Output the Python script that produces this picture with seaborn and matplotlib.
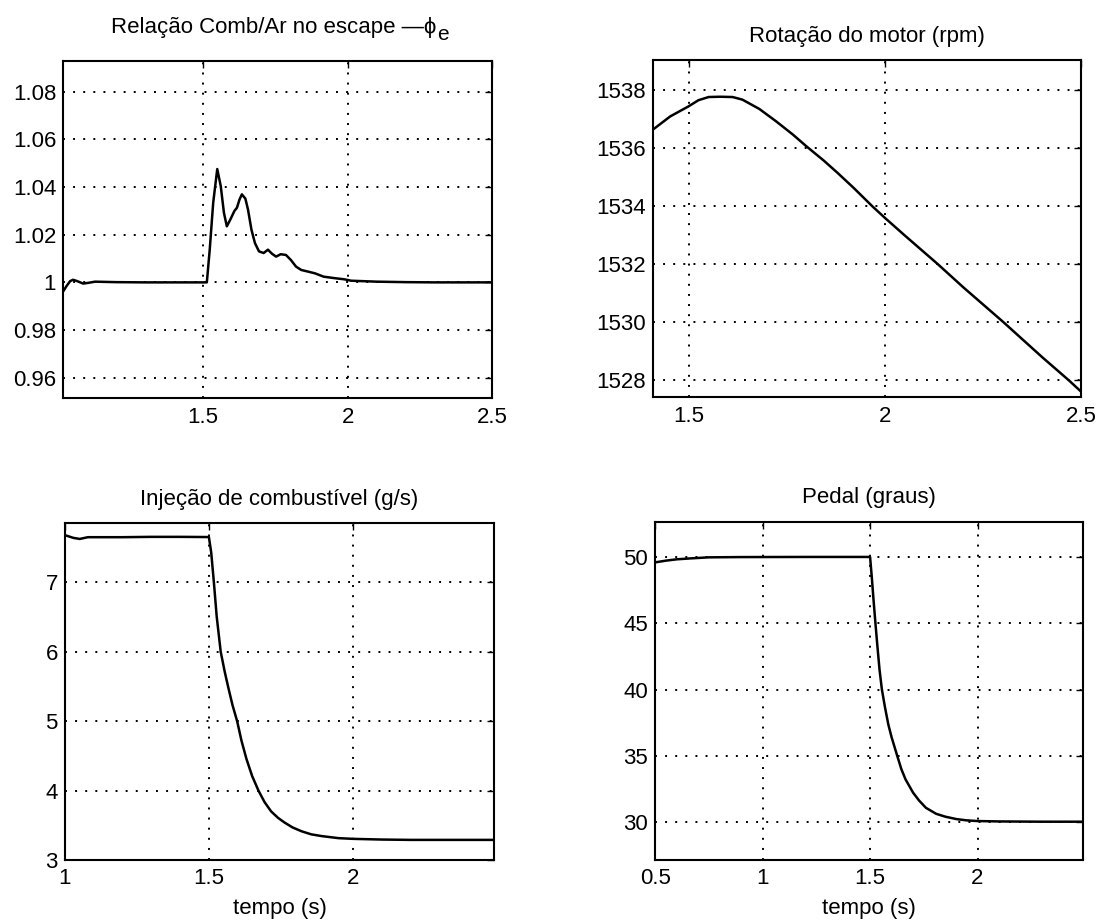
import matplotlib
matplotlib.use("Agg")
import matplotlib.pyplot as plt
from matplotlib.ticker import FuncFormatter
import matplotlib.transforms as mtransforms
import seaborn as sns

# ---------------- data ----------------
phi_t = [1.018, 1.03, 1.042, 1.052, 1.065, 1.087, 1.105, 1.128, 1.2, 1.3, 1.4, 1.5,
         1.514, 1.524, 1.536, 1.550, 1.562, 1.573, 1.583, 1.595, 1.609, 1.618, 1.627,
         1.635, 1.647, 1.656, 1.668, 1.680, 1.694, 1.710, 1.725, 1.739, 1.753, 1.769,
         1.787, 1.804, 1.822, 1.840, 1.864, 1.887, 1.917, 1.953, 1.988, 2.012, 2.1,
         2.2, 2.3, 2.4, 2.5]
phi_v = [0.9962, 0.9985, 1.0005, 1.0011, 1.0006, 0.9995, 0.9998, 1.0003, 1.0001, 1.0,
         1.0, 1.0, 1.0, 1.0137, 1.0334, 1.0475, 1.0404, 1.0292, 1.0235, 1.0263, 1.0299,
         1.0313, 1.0348, 1.0369, 1.0351, 1.0306, 1.0221, 1.0165, 1.0130, 1.0123, 1.0137,
         1.0120, 1.0108, 1.0118, 1.0115, 1.0094, 1.0066, 1.0052, 1.0045, 1.0038, 1.0024,
         1.0018, 1.0013, 1.0007, 1.0003, 1.0001, 1.0, 1.0, 1.0]

rpm_t = [1.4085, 1.453, 1.5, 1.525, 1.551, 1.58, 1.612, 1.637, 1.68, 1.723, 1.766,
         1.80, 1.844, 1.878, 1.92, 1.968, 2.0, 2.05, 2.135, 2.2, 2.302, 2.4, 2.468, 2.5]
rpm_v = [1536.64, 1537.10, 1537.45, 1537.66, 1537.77, 1537.78, 1537.77, 1537.68,
         1537.36, 1536.93, 1536.47, 1536.07, 1535.58, 1535.17, 1534.64, 1534.0,
         1533.6, 1533.0, 1532.0, 1531.2, 1530.0, 1528.8, 1528.0, 1527.6]

fuel_t = [1.0, 1.015, 1.03, 1.052, 1.08, 1.2, 1.3, 1.4, 1.5, 1.508, 1.5175, 1.527,
          1.541, 1.555, 1.567, 1.582, 1.598, 1.613, 1.63, 1.65, 1.672, 1.693, 1.716,
          1.74, 1.7625, 1.79, 1.821, 1.855, 1.891, 1.95, 2.0, 2.1, 2.2, 2.3, 2.4, 2.49]
fuel_v = [7.68, 7.66, 7.64, 7.625, 7.65, 7.65, 7.655, 7.655, 7.652, 7.43, 6.99, 6.51,
          6.0, 5.71, 5.49, 5.23, 5.0, 4.72, 4.46, 4.21, 4.0, 3.835, 3.70, 3.607, 3.54,
          3.47, 3.415, 3.37, 3.345, 3.315, 3.305, 3.295, 3.29, 3.29, 3.29, 3.29]

pedal_t = [0.5, 0.55, 0.6, 0.664, 0.75, 0.9, 1.2, 1.5, 1.508, 1.516, 1.525, 1.534,
           1.544, 1.555, 1.57, 1.585, 1.6, 1.613, 1.626, 1.645, 1.665, 1.7, 1.728,
           1.76, 1.807, 1.85, 1.901, 1.95, 2.0, 2.1, 2.3, 2.49]
pedal_v = [49.62, 49.75, 49.85, 49.92, 50.0, 50.02, 50.03, 50.03, 48.5, 46.8, 45.0,
           43.3, 41.5, 40.0, 38.6, 37.35, 36.4, 35.7, 35.0, 34.0, 33.2, 32.2, 31.6,
           31.05, 30.6, 30.38, 30.2, 30.1, 30.05, 30.02, 30.0, 30.0]

titles = ["Relação Comb/Ar no escape \u2014\u03d5", "Rotação do motor (rpm)",
          "Injeção de combustível (g/s)", "Pedal (graus)"]
title_sub = "e"
xlabel_text = "tempo (s)"

phi_yticks = [0.96, 0.98, 1.0, 1.02, 1.04, 1.06, 1.08]
phi_xticks = [1.5, 2.0, 2.5]
rpm_yticks = [1528, 1530, 1532, 1534, 1536, 1538]
rpm_xticks = [1.5, 2.0, 2.5]
fuel_yticks = [3, 4, 5, 6, 7]
fuel_xticks = [1.0, 1.5, 2.0]
pedal_yticks = [30, 35, 40, 45, 50]
pedal_xticks = [0.5, 1.0, 1.5, 2.0]

# ---------------- style ----------------
sns.set_style("white")
plt.rcParams['font.family'] = ['Liberation Sans', 'DejaVu Sans']
FS = 16

fig = plt.figure(figsize=(11, 9.21), dpi=100)
fig.patch.set_facecolor("white")

positions = [
    [0.0574, 0.5675, 0.3903, 0.3663],
    [0.5934, 0.5686, 0.3893, 0.3663],
    [0.0589, 0.0662, 0.3904, 0.3656],
    [0.5956, 0.0662, 0.3888, 0.3674],
]

specs = [
    (phi_t, phi_v, (1.018, 2.5), (0.9514, 1.0928), phi_xticks, phi_yticks, 20),
    (rpm_t, rpm_v, (1.4085, 2.5), (1527.4, 1539.05), rpm_xticks, rpm_yticks, 13),
    (fuel_t, fuel_v, (1.0, 2.49), (3.0, 7.85), fuel_xticks, fuel_yticks, 13),
    (pedal_t, pedal_v, (0.5, 2.49), (27.1, 52.7), pedal_xticks, pedal_yticks, 13.5),
]

fmt = FuncFormatter(lambda v, p: ("%g" % round(v, 6)))

axes = []
for i, (pos, (tx, vy, xl, yl, xt, yt, tpad)) in enumerate(zip(positions, specs)):
    ax = fig.add_axes(pos)
    axes.append(ax)
    sns.lineplot(x=tx, y=vy, ax=ax, color="black", linewidth=1.8, sort=False)
    ax.set_xlim(*xl)
    ax.set_ylim(*yl)
    ax.set_xticks(xt)
    ax.set_yticks(yt)
    ax.xaxis.set_major_formatter(fmt)
    ax.yaxis.set_major_formatter(fmt)
    ax.grid(True, color="black", linestyle=(0, (1, 4.2)), linewidth=1.4)
    ax.tick_params(direction="in", top=True, right=True, length=5, width=1,
                   labelsize=FS, colors="black", pad=6)
    ax.tick_params(axis="y", pad=5)
    for s in ax.spines.values():
        s.set_color("black")
        s.set_linewidth(1.5)
        s.set_visible(True)
    ax.set_title(titles[i], fontsize=FS, pad=tpad, color="black")
    if i >= 2:
        ax.set_xlabel(xlabel_text, fontsize=FS, labelpad=6, color="black")
    else:
        ax.set_xlabel("")
    ax.set_ylabel("")

# shift the first title a bit left to leave room for the subscript, then add it
t0 = axes[0].title
t0.set_x(0.49)
fig.canvas.draw()
bb = t0.get_window_extent()
inv = fig.transFigure.inverted()
x_end, y_base = inv.transform((bb.x1, bb.y0))
fig.text(x_end + 1.0 / 1100, y_base - 6.0 / 921, title_sub, fontsize=FS - 1,
         ha="left", va="bottom", color="black")

fig.savefig("out.png", dpi=100, facecolor="white")
